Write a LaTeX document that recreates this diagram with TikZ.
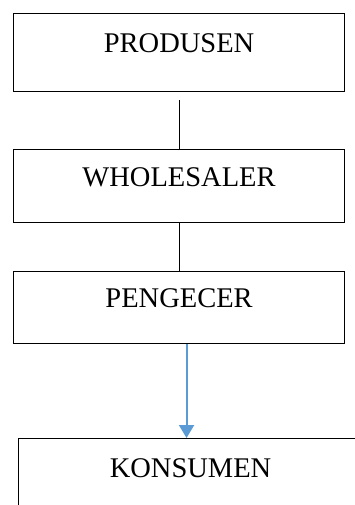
\documentclass[tikz,border=0pt]{standalone}
\usepackage{fontspec}
\setmainfont{Liberation Serif}
\usetikzlibrary{arrows.meta}
\definecolor{arrowblue}{RGB}{91,155,213}
\begin{document}
\begin{tikzpicture}[x=1pt,y=-1pt,
  box/.style={draw=black,line width=1.1pt,rectangle,inner sep=0pt,anchor=north west,
    minimum height=78pt,text height=20pt,text depth=20pt,
    font=\fontsize{28.5}{34}\selectfont},
  link/.style={draw=black,line width=1.1pt},
  flow/.style={draw=arrowblue,line width=2pt,-{Triangle[length=13pt,width=15pt]}}]
\useasboundingbox (0,0) rectangle (355,505);
\clip (0,0) rectangle (355,505);
\node[box,minimum width=331pt] (b1) at (13,13) {PRODUSEN};
\node[box,minimum width=331pt,minimum height=73pt] (b2) at (13,149) {WHOLESALER};
\node[box,minimum width=331pt,minimum height=72pt] (b3) at (13,271) {PENGECER};
\node[box,minimum width=344pt] (b4) at (18,438) {KONSUMEN};
\draw[link] ([yshift=-8pt]b1.south) -- (b2.north);
\draw[link] (b2.south) -- (b3.north);
\draw[flow] ([xshift=7.5pt]b3.south) -- ([xshift=7.5pt]b3.south |- b4.north);
\end{tikzpicture}
\end{document}
